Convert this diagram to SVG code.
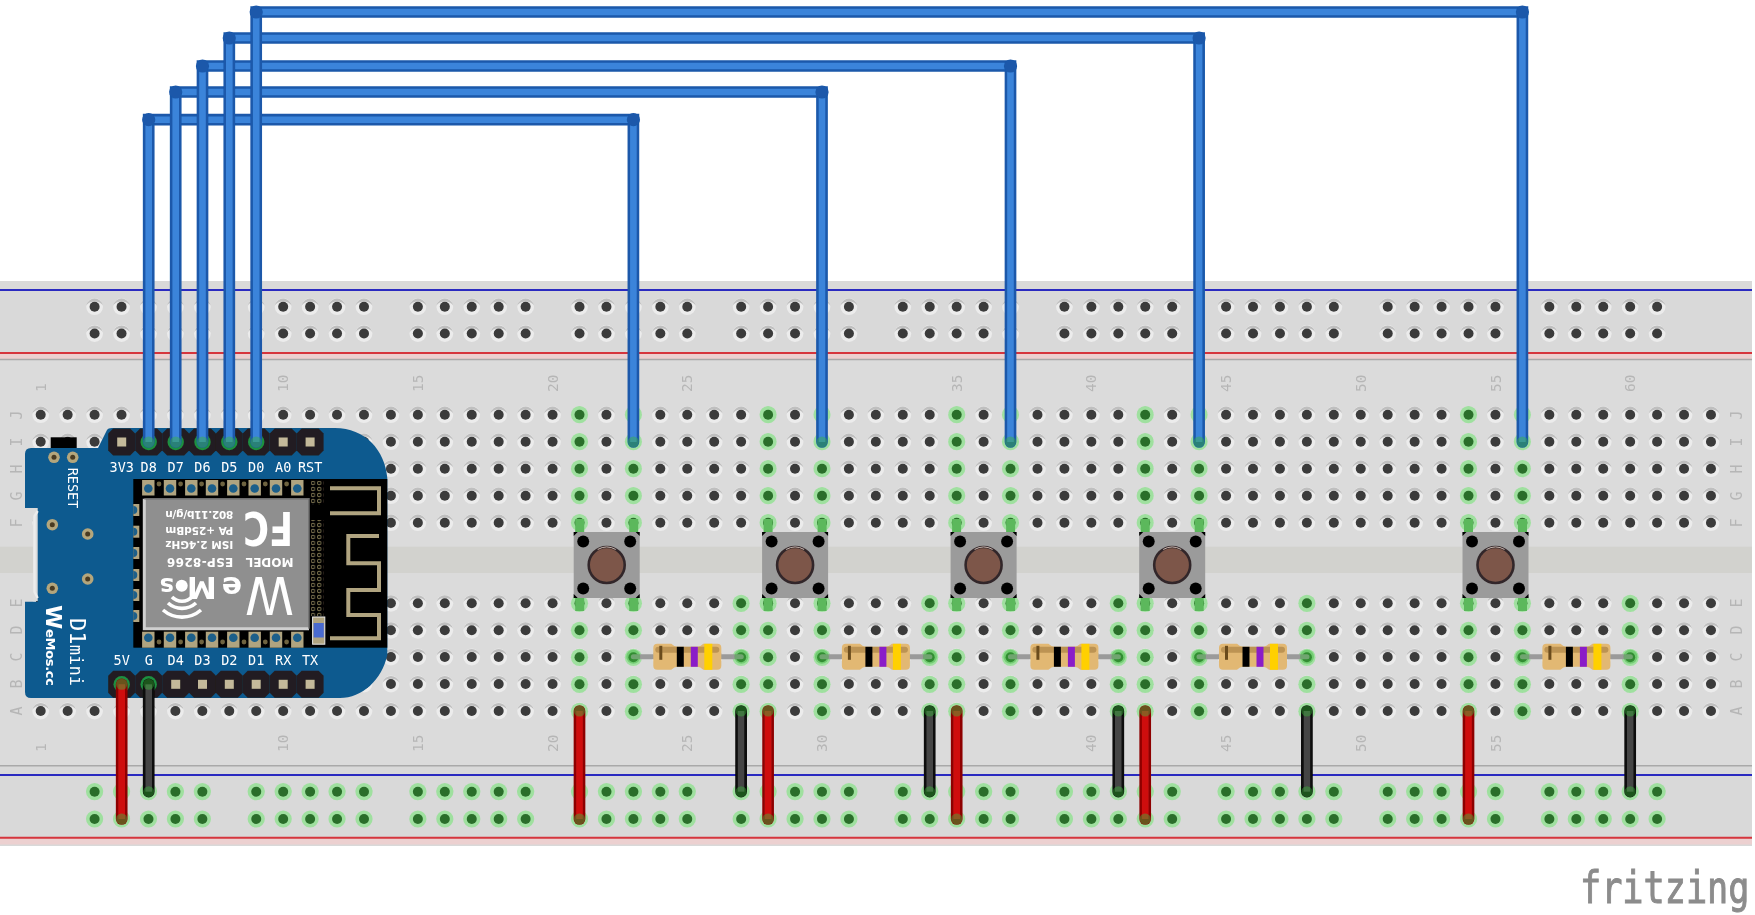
<svg xmlns="http://www.w3.org/2000/svg" width="1755" height="915" viewBox="0 0 1755 915">
<style>
.num{font:14.5px "DejaVu Sans Mono",monospace;fill:#b6b6b6}
.let{font:15px "DejaVu Sans Mono",monospace;fill:#b6b6b6;text-anchor:middle}
.pl{font:13.5px "DejaVu Sans Mono",monospace;fill:#fff;text-anchor:middle}
.chip{font-family:"DejaVu Sans",sans-serif;font-weight:700;fill:#fff}
.logo{font-family:"DejaVu Sans",sans-serif;fill:#fff}
.bo{fill:none;stroke:#1a58aa;stroke-width:11.7}
.bi{fill:none;stroke:#3b84da;stroke-width:6.6}
.bd{fill:#1a58aa}
.ro{fill:none;stroke:#8e0505;stroke-width:11.7;stroke-linecap:round}
.ri{fill:none;stroke:#cf1111;stroke-width:6.6}
.ko{fill:none;stroke:#070707;stroke-width:11.7;stroke-linecap:round}
.ki{fill:none;stroke:#444;stroke-width:6.6}
.end{fill:#3cb43c;opacity:.45}
.pad{fill:#b0a480}
.teal{fill:#1d5f8a}
.ant{fill:none;stroke:#b0a480;stroke-width:4}
</style>
<defs>
<filter id="soft" x="0" y="0" width="100%" height="100%"><feGaussianBlur stdDeviation="0.45"/></filter>
<g id="h"><circle r="8.4" fill="#ececec"/><path d="M-8.2,-1.5A8.4,8.4 0 0 1 8.2,-1.5A9,6.5 0 0 0 -8.2,-1.5Z" fill="#bfbfbf"/><circle r="5" fill="#3a3a3a"/></g>
<g id="g"><circle r="8.6" fill="#9fe09f"/><circle r="5" fill="#2a6e2a"/></g>
<g id="h5"><use href="#h"/><use href="#h" x="26.94"/><use href="#h" x="53.88"/><use href="#h" x="80.82"/><use href="#h" x="107.76"/></g>
<g id="g5"><use href="#g"/><use href="#g" x="26.94"/><use href="#g" x="53.88"/><use href="#g" x="80.82"/><use href="#g" x="107.76"/></g>
<g id="h30"><use href="#h5"/><use href="#h5" x="134.7"/><use href="#h5" x="269.4"/><use href="#h5" x="404.1"/><use href="#h5" x="538.8"/><use href="#h5" x="673.5"/></g>
<g id="row"><use href="#h30"/><use href="#h30" x="808.2"/><use href="#h" x="1616.4"/><use href="#h" x="1643.34"/><use href="#h" x="1670.28"/></g>
<g id="rail"><use href="#h5"/><use href="#h5" x="161.64"/><use href="#h5" x="323.28"/><use href="#h5" x="484.92"/><use href="#h5" x="646.56"/><use href="#h5" x="808.2"/><use href="#h5" x="969.84"/><use href="#h5" x="1131.48"/><use href="#h5" x="1293.12"/><use href="#h5" x="1454.76"/></g>
<g id="grail"><use href="#g5"/><use href="#g5" x="161.64"/><use href="#g5" x="323.28"/><use href="#g5" x="484.92"/><use href="#g5" x="646.56"/><use href="#g5" x="808.2"/><use href="#g5" x="969.84"/><use href="#g5" x="1131.48"/><use href="#g5" x="1293.12"/><use href="#g5" x="1454.76"/></g>
<g id="gc"><use href="#g"/><use href="#g" y="27"/><use href="#g" y="54"/><use href="#g" y="81"/><use href="#g" y="108"/></g>
<g id="btn">
<rect x="-31.5" y="-46" width="9" height="14" fill="#5cb85c"/><rect x="22.5" y="-46" width="9" height="14" fill="#5cb85c"/>
<rect x="-31.5" y="32" width="9" height="14" fill="#5cb85c"/><rect x="22.5" y="32" width="9" height="14" fill="#5cb85c"/>
<rect x="-33" y="-33" width="66" height="66" fill="#9b9b9b"/>
<path d="M-33,-33h4l-4,4zM33,-33h-4l4,4zM-33,33h4l-4,-4zM33,33h-4l4,-4z" fill="#000"/>
<g fill="#050505"><circle cx="-23.5" cy="-23.5" r="6"/><circle cx="23.5" cy="-23.5" r="6"/><circle cx="-23.5" cy="23.5" r="6"/><circle cx="23.5" cy="23.5" r="6"/></g>
<circle r="18" fill="#7d5648" stroke="#33282a" stroke-width="2.6"/>
<path d="M-9,-15.5A18,18 0 0 1 9,-15.5" fill="none" stroke="#c9b5ad" stroke-width="1"/>
</g>
<g id="res">
<line x1="-54" x2="54" stroke="#9a9a9a" stroke-width="5" stroke-linecap="round"/>
<circle cx="-54" r="7" class="end"/><circle cx="54" r="7" class="end"/>
<path d="M-30,-13H-16Q-13,-10 -10,-10H10Q13,-10 16,-13H30Q34,-13 34,-9V9Q34,13 30,13H16Q13,10 10,10H-10Q-13,10 -16,13H-30Q-34,13 -34,9V-9Q-34,-13 -30,-13Z" fill="#e2b873"/>
<rect x="-32" y="-10" width="64" height="6" rx="3" fill="#9c7438" opacity=".55"/>
<rect x="-28" y="-11" width="3" height="14" fill="#6a4c1e"/>
<rect x="-10.5" y="-10" width="7" height="20" fill="#050505"/>
<rect x="3.5" y="-10" width="7" height="20" fill="#8a1ec8"/>
<rect x="17" y="-13" width="8" height="26" fill="#ffd000"/>
</g>
<g id="pin"><polygon points="-13.5,-8.5 -8.5,-13.5 8.5,-13.5 13.5,-8.5 13.5,8.5 8.5,13.5 -8.5,13.5 -13.5,8.5" fill="#231f20"/><rect x="-4.5" y="-4.5" width="9" height="9" fill="#c4b99a"/></g>
<pattern id="vias" width="6.2" height="6" patternUnits="userSpaceOnUse"><circle cx="3" cy="3" r="1.7" fill="none" stroke="#7c7350" stroke-width="1"/></pattern>
<g id="tp"><rect x="-6.2" y="0" width="12.4" height="15.5" class="pad"/><circle cy="8.5" r="4.3" class="teal"/></g>
<g id="bp"><rect x="-6.2" y="0" width="12.4" height="16" class="pad"/><circle cy="6" r="4.3" class="teal"/></g>
<g id="lp"><rect x="0" y="-6" width="6" height="12" class="pad"/><path d="M0,-4A4,4 0 0 1 0,4Z" class="teal"/></g>
<g id="ring"><circle r="5.8" fill="#b4a67c"/><circle r="2.5" fill="#4a3a20"/></g>
</defs>
<rect width="1755" height="915" fill="#fff"/>
<g filter="url(#soft)">
<g id="breadboard">
<rect y="281" width="1752" height="565" fill="#d9d9d9"/>
<rect y="360" width="1752" height="405" fill="#dbdbdb"/>
<rect y="546.7" width="1752" height="26.3" fill="#d2d2ce"/>
<rect y="354" width="1752" height="5" fill="#ecd0d0"/>
<rect y="838.5" width="1752" height="6" fill="#ecd0d0"/>
<line x2="1752" y1="290" y2="290" stroke="#2a2ac0" stroke-width="2"/>
<line x2="1752" y1="353" y2="353" stroke="#d6343c" stroke-width="2"/>
<line x2="1752" y1="359.5" y2="359.5" stroke="#a9a9a9" stroke-width="1.5"/>
<line x2="1752" y1="765.7" y2="765.7" stroke="#a9a9a9" stroke-width="1.5"/>
<line x2="1752" y1="775" y2="775" stroke="#2a2ac0" stroke-width="2"/>
<line x2="1752" y1="837.7" y2="837.7" stroke="#d6343c" stroke-width="2"/>
<g id="holes">
<use href="#rail" x="94.6" y="306.7"/><use href="#rail" x="94.6" y="333.5"/>
<use href="#grail" x="94.6" y="791.7"/><use href="#grail" x="94.6" y="819"/>
<use href="#row" x="40.7" y="414.7"/><use href="#row" x="40.7" y="441.7"/><use href="#row" x="40.7" y="468.7"/><use href="#row" x="40.7" y="495.7"/><use href="#row" x="40.7" y="522.7"/>
<use href="#row" x="40.7" y="603.3"/><use href="#row" x="40.7" y="630.3"/><use href="#row" x="40.7" y="657"/><use href="#row" x="40.7" y="684"/><use href="#row" x="40.7" y="711"/>
</g>
<g id="connected-top">
<use href="#gc" x="579.5" y="414.7"/><use href="#gc" x="633.4" y="414.7"/><use href="#gc" x="768.1" y="414.7"/><use href="#gc" x="822" y="414.7"/><use href="#gc" x="956.7" y="414.7"/><use href="#gc" x="1010.5" y="414.7"/><use href="#gc" x="1145.2" y="414.7"/><use href="#gc" x="1199.1" y="414.7"/><use href="#gc" x="1468.5" y="414.7"/><use href="#gc" x="1522.4" y="414.7"/>
</g>
<g id="connected-bottom">
<use href="#gc" x="579.5" y="603.3"/><use href="#gc" x="633.4" y="603.3"/><use href="#gc" x="741.1" y="603.3"/><use href="#gc" x="768.1" y="603.3"/><use href="#gc" x="822" y="603.3"/><use href="#gc" x="929.7" y="603.3"/><use href="#gc" x="956.7" y="603.3"/><use href="#gc" x="1010.5" y="603.3"/><use href="#gc" x="1118.3" y="603.3"/><use href="#gc" x="1145.2" y="603.3"/><use href="#gc" x="1199.1" y="603.3"/><use href="#gc" x="1306.9" y="603.3"/><use href="#gc" x="1468.5" y="603.3"/><use href="#gc" x="1522.4" y="603.3"/><use href="#gc" x="1630.2" y="603.3"/>
</g>
<g id="column-numbers">
<text class="num" transform="translate(46,392) rotate(-90)">1</text><text class="num" transform="translate(153.5,392) rotate(-90)">5</text><text class="num" transform="translate(288.2,392) rotate(-90)">10</text><text class="num" transform="translate(422.9,392) rotate(-90)">15</text><text class="num" transform="translate(557.6,392) rotate(-90)">20</text><text class="num" transform="translate(692.3,392) rotate(-90)">25</text><text class="num" transform="translate(827,392) rotate(-90)">30</text><text class="num" transform="translate(961.7,392) rotate(-90)">35</text><text class="num" transform="translate(1096.4,392) rotate(-90)">40</text><text class="num" transform="translate(1231.1,392) rotate(-90)">45</text><text class="num" transform="translate(1365.8,392) rotate(-90)">50</text><text class="num" transform="translate(1500.5,392) rotate(-90)">55</text><text class="num" transform="translate(1635.2,392) rotate(-90)">60</text>
<text class="num" transform="translate(46,752) rotate(-90)">1</text><text class="num" transform="translate(153.5,752) rotate(-90)">5</text><text class="num" transform="translate(288.2,752) rotate(-90)">10</text><text class="num" transform="translate(422.9,752) rotate(-90)">15</text><text class="num" transform="translate(557.6,752) rotate(-90)">20</text><text class="num" transform="translate(692.3,752) rotate(-90)">25</text><text class="num" transform="translate(827,752) rotate(-90)">30</text><text class="num" transform="translate(961.7,752) rotate(-90)">35</text><text class="num" transform="translate(1096.4,752) rotate(-90)">40</text><text class="num" transform="translate(1231.1,752) rotate(-90)">45</text><text class="num" transform="translate(1365.8,752) rotate(-90)">50</text><text class="num" transform="translate(1500.5,752) rotate(-90)">55</text><text class="num" transform="translate(1635.2,752) rotate(-90)">60</text>
</g>
<g id="row-letters">
<text class="let" transform="translate(22,415) rotate(-90)">J</text><text class="let" transform="translate(22,442) rotate(-90)">I</text><text class="let" transform="translate(22,469) rotate(-90)">H</text><text class="let" transform="translate(22,496) rotate(-90)">G</text><text class="let" transform="translate(22,523) rotate(-90)">F</text><text class="let" transform="translate(22,603) rotate(-90)">E</text><text class="let" transform="translate(22,630) rotate(-90)">D</text><text class="let" transform="translate(22,657) rotate(-90)">C</text><text class="let" transform="translate(22,684) rotate(-90)">B</text><text class="let" transform="translate(22,711) rotate(-90)">A</text>
<text class="let" transform="translate(1742,415) rotate(-90)">J</text><text class="let" transform="translate(1742,442) rotate(-90)">I</text><text class="let" transform="translate(1742,469) rotate(-90)">H</text><text class="let" transform="translate(1742,496) rotate(-90)">G</text><text class="let" transform="translate(1742,523) rotate(-90)">F</text><text class="let" transform="translate(1742,603) rotate(-90)">E</text><text class="let" transform="translate(1742,630) rotate(-90)">D</text><text class="let" transform="translate(1742,657) rotate(-90)">C</text><text class="let" transform="translate(1742,684) rotate(-90)">B</text><text class="let" transform="translate(1742,711) rotate(-90)">A</text>
</g>
</g>

<g id="resistor-1"><use href="#res" transform="translate(687.3,656.8)"/></g>
<g id="resistor-2"><use href="#res" transform="translate(875.9,656.8)"/></g>
<g id="resistor-3"><use href="#res" transform="translate(1064.4,656.8)"/></g>
<g id="resistor-4"><use href="#res" transform="translate(1253,656.8)"/></g>
<g id="resistor-5"><use href="#res" transform="translate(1576.4,656.8)"/></g>

<g id="button-1"><use href="#btn" transform="translate(606.7,565)"/></g>
<g id="button-2"><use href="#btn" transform="translate(795.1,565)"/></g>
<g id="button-3"><use href="#btn" transform="translate(983.6,565)"/></g>
<g id="button-4"><use href="#btn" transform="translate(1172.2,565)"/></g>
<g id="button-5"><use href="#btn" transform="translate(1495.5,565)"/></g>

<g id="wemos-d1-mini">
<rect x="50.7" y="437.3" width="26" height="11.5" fill="#000"/>
<rect x="33" y="509" width="6" height="92" fill="#dcdcdc"/>
<path d="M31,448L98,448L107,430Q108,428 112,428L335,428C365,428 385,450 387.3,478L387.3,655C382,680 362,698 340,698L31,698Q25,698 25,692L25,601.7L37.7,601.7L37.7,508L25,508L25,454Q25,448 31,448Z" fill="#0f5a8f"/>
<path d="M37.7,511L34.5,516L34.5,592L37.7,598" fill="none" stroke="#ececec" stroke-width="2.4"/>
<use href="#ring" x="54" y="457.3"/><use href="#ring" x="72.7" y="457.3"/><use href="#ring" x="52.3" y="524.7"/><use href="#ring" x="87.7" y="534"/><use href="#ring" x="87.7" y="579"/><use href="#ring" x="52.3" y="588.3"/>
<rect x="133.3" y="479" width="254" height="168.7" fill="#000"/>
<g id="castellations">
<use href="#tp" x="148.3" y="480"/><use href="#tp" x="170" y="480"/><use href="#tp" x="191.3" y="480"/><use href="#tp" x="212" y="480"/><use href="#tp" x="233.3" y="480"/><use href="#tp" x="254.7" y="480"/><use href="#tp" x="276" y="480"/><use href="#tp" x="297.3" y="480"/>
<use href="#bp" x="148.3" y="631.7"/><use href="#bp" x="170" y="631.7"/><use href="#bp" x="191.3" y="631.7"/><use href="#bp" x="212" y="631.7"/><use href="#bp" x="233.3" y="631.7"/><use href="#bp" x="254.7" y="631.7"/><use href="#bp" x="276" y="631.7"/><use href="#bp" x="297.3" y="631.7"/>
<use href="#lp" x="133.3" y="510"/><use href="#lp" x="133.3" y="531.7"/><use href="#lp" x="133.3" y="553"/><use href="#lp" x="133.3" y="575"/><use href="#lp" x="133.3" y="595"/><use href="#lp" x="133.3" y="616"/>
</g>
<g fill="#6e6440"><circle cx="159" cy="484" r="2.4"/><circle cx="180.6" cy="484" r="2.4"/><circle cx="201.6" cy="484" r="2.4"/><circle cx="222.6" cy="484" r="2.4"/><circle cx="244" cy="484" r="2.4"/><circle cx="265.3" cy="484" r="2.4"/><circle cx="286.6" cy="484" r="2.4"/><circle cx="159" cy="642" r="2.4"/><circle cx="180.6" cy="642" r="2.4"/><circle cx="201.6" cy="642" r="2.4"/><circle cx="222.6" cy="642" r="2.4"/><circle cx="244" cy="642" r="2.4"/><circle cx="265.3" cy="642" r="2.4"/><circle cx="286.6" cy="642" r="2.4"/></g>
<rect x="311" y="481" width="12.4" height="24" fill="url(#vias)"/>
<rect x="311" y="520" width="12.4" height="96" fill="url(#vias)"/>
<path class="ant" d="M330,488.3H379V513.3H330"/><path class="ant" d="M379,536H348.3V563.3H379V590H348.3V615H379V638.3H330"/>
<rect x="312.6" y="617" width="12.2" height="27.2" fill="#b0a480" stroke="#e8e8e8" stroke-width="1"/>
<rect x="313.6" y="623" width="10.2" height="14.5" fill="#4a6ad0"/>
<rect x="144.3" y="498.7" width="164.7" height="130" fill="#8f8f8f"/>
<path d="M144.3,498.7V628.7H309" fill="none" stroke="#cfcfcf" stroke-width="3"/>
<path d="M144.3,498.7H309V628.7" fill="none" stroke="#6e6e6e" stroke-width="1.5"/>
<g id="shield-labels">
<text class="chip" font-size="10.5" textLength="68" transform="translate(233.3,511) rotate(180)">802.11b/g/n</text>
<text class="chip" font-size="10.5" textLength="68" transform="translate(233.3,526.7) rotate(180)">PA +25dBm</text>
<text class="chip" font-size="10.5" textLength="68" transform="translate(233.3,541) rotate(180)">ISM 2.4GHz</text>
<text class="chip" font-size="12" transform="translate(293.5,558) rotate(180)">MODEL</text>
<text class="chip" font-size="12" textLength="66.5" transform="translate(233.3,558) rotate(180)">ESP-8266</text>
<text class="chip" font-size="46" textLength="50" lengthAdjust="spacingAndGlyphs" transform="translate(293,512) rotate(180)">FC</text>
<text class="logo" font-size="52" textLength="49" lengthAdjust="spacingAndGlyphs" transform="translate(294,577) rotate(180)">W</text>
<text class="chip" font-size="30" textLength="55" transform="translate(242,577) rotate(180)">eM</text>
<text class="chip" font-size="24" transform="translate(174,578) rotate(180)">s</text>
</g>
<circle cx="181.7" cy="585.7" r="6" fill="#fff"/>
<g fill="none" stroke="#fff" stroke-width="3.6"><path d="M172,597A14,14 0 0 0 192,597"/><path d="M168,603A21,21 0 0 0 196,603"/><path d="M163,610A29,29 0 0 0 201,610"/></g>
<text class="pl" transform="translate(67.5,467.7) rotate(90)" style="text-anchor:start">RESET</text>
<text style="font:22px 'DejaVu Sans Mono',monospace;fill:#fff" transform="translate(70,618) rotate(90)" textLength="68">D1<tspan font-size="17">mini</tspan></text>
<text class="chip" transform="translate(45.5,605) rotate(90)" font-size="13" textLength="81"><tspan font-size="22">W</tspan>eMos.cc</text>
<g id="headers">
<use href="#pin" x="121.7" y="442"/><use href="#pin" x="148.7" y="442"/><use href="#pin" x="175.7" y="442"/><use href="#pin" x="202.5" y="442"/><use href="#pin" x="229.3" y="442"/><use href="#pin" x="256.2" y="442"/><use href="#pin" x="283.2" y="442"/><use href="#pin" x="310.1" y="442"/>
<use href="#pin" x="121.7" y="684.3"/><use href="#pin" x="148.7" y="684.3"/><use href="#pin" x="175.7" y="684.3"/><use href="#pin" x="202.5" y="684.3"/><use href="#pin" x="229.3" y="684.3"/><use href="#pin" x="256.2" y="684.3"/><use href="#pin" x="283.2" y="684.3"/><use href="#pin" x="310.1" y="684.3"/>
</g>
<g fill="#1f9040"><circle cx="148.7" cy="442" r="8.2"/><circle cx="175.7" cy="442" r="8.2"/><circle cx="202.5" cy="442" r="8.2"/><circle cx="229.3" cy="442" r="8.2"/><circle cx="256.2" cy="442" r="8.2"/><circle cx="121.7" cy="684.3" r="8.2"/><circle cx="148.7" cy="684.3" r="8.2"/></g>
<text class="pl" x="121.7" y="472">3V3</text><text class="pl" x="148.7" y="472">D8</text><text class="pl" x="175.7" y="472">D7</text><text class="pl" x="202.5" y="472">D6</text><text class="pl" x="229.3" y="472">D5</text><text class="pl" x="256.2" y="472">D0</text><text class="pl" x="283.2" y="472">A0</text><text class="pl" x="310.1" y="472">RST</text>
<text class="pl" x="121.7" y="664.7">5V</text><text class="pl" x="148.7" y="664.7">G</text><text class="pl" x="175.7" y="664.7">D4</text><text class="pl" x="202.5" y="664.7">D3</text><text class="pl" x="229.3" y="664.7">D2</text><text class="pl" x="256.2" y="664.7">D1</text><text class="pl" x="283.2" y="664.7">RX</text><text class="pl" x="310.1" y="664.7">TX</text>
</g>

<g id="connectors">
<g id="jumpers-power">
<path class="ko" d="M148.7,684.3V791.7"/><path class="ki" d="M148.7,684.3V791.7"/><circle class="end" cx="148.7" cy="684.3" r="5.5"/><circle class="end" cx="148.7" cy="791.7" r="5.5"/>
<path class="ro" d="M121.7,684.3V819"/><path class="ri" d="M121.7,684.3V819"/><circle class="end" cx="121.7" cy="684.3" r="5.5"/><circle class="end" cx="121.7" cy="819" r="5.5"/>
<path class="ro" d="M579.5,711V819"/><path class="ri" d="M579.5,711V819"/><circle class="end" cx="579.5" cy="711" r="5.5"/><circle class="end" cx="579.5" cy="819" r="5.5"/>
<path class="ko" d="M741.1,711V791.7"/><path class="ki" d="M741.1,711V791.7"/><circle class="end" cx="741.1" cy="711" r="5.5"/><circle class="end" cx="741.1" cy="791.7" r="5.5"/>
<path class="ro" d="M768.1,711V819"/><path class="ri" d="M768.1,711V819"/><circle class="end" cx="768.1" cy="711" r="5.5"/><circle class="end" cx="768.1" cy="819" r="5.5"/>
<path class="ko" d="M929.7,711V791.7"/><path class="ki" d="M929.7,711V791.7"/><circle class="end" cx="929.7" cy="711" r="5.5"/><circle class="end" cx="929.7" cy="791.7" r="5.5"/>
<path class="ro" d="M956.7,711V819"/><path class="ri" d="M956.7,711V819"/><circle class="end" cx="956.7" cy="711" r="5.5"/><circle class="end" cx="956.7" cy="819" r="5.5"/>
<path class="ko" d="M1118.3,711V791.7"/><path class="ki" d="M1118.3,711V791.7"/><circle class="end" cx="1118.3" cy="711" r="5.5"/><circle class="end" cx="1118.3" cy="791.7" r="5.5"/>
<path class="ro" d="M1145.2,711V819"/><path class="ri" d="M1145.2,711V819"/><circle class="end" cx="1145.2" cy="711" r="5.5"/><circle class="end" cx="1145.2" cy="819" r="5.5"/>
<path class="ko" d="M1306.9,711V791.7"/><path class="ki" d="M1306.9,711V791.7"/><circle class="end" cx="1306.9" cy="711" r="5.5"/><circle class="end" cx="1306.9" cy="791.7" r="5.5"/>
<path class="ro" d="M1468.5,711V819"/><path class="ri" d="M1468.5,711V819"/><circle class="end" cx="1468.5" cy="711" r="5.5"/><circle class="end" cx="1468.5" cy="819" r="5.5"/>
<path class="ko" d="M1630.2,711V791.7"/><path class="ki" d="M1630.2,711V791.7"/><circle class="end" cx="1630.2" cy="711" r="5.5"/><circle class="end" cx="1630.2" cy="791.7" r="5.5"/>
</g>
<g id="wire-d8"><path class="bo" d="M148.7,442V119.7H633.4V442" stroke-linecap="round"/><path class="bi" d="M148.7,442V119.7H633.4V442"/><circle class="bd" cx="148.7" cy="119.7" r="6.6"/><circle class="bd" cx="633.4" cy="119.7" r="6.6"/><circle class="end" cx="148.7" cy="442" r="5.5"/><circle class="end" cx="633.4" cy="442" r="5.5"/></g>
<g id="wire-d7"><path class="bo" d="M175.7,442V92H822V442" stroke-linecap="round"/><path class="bi" d="M175.7,442V92H822V442"/><circle class="bd" cx="175.7" cy="92" r="6.6"/><circle class="bd" cx="822" cy="92" r="6.6"/><circle class="end" cx="175.7" cy="442" r="5.5"/><circle class="end" cx="822" cy="442" r="5.5"/></g>
<g id="wire-d6"><path class="bo" d="M202.5,442V66H1010.5V442" stroke-linecap="round"/><path class="bi" d="M202.5,442V66H1010.5V442"/><circle class="bd" cx="202.5" cy="66" r="6.6"/><circle class="bd" cx="1010.5" cy="66" r="6.6"/><circle class="end" cx="202.5" cy="442" r="5.5"/><circle class="end" cx="1010.5" cy="442" r="5.5"/></g>
<g id="wire-d5"><path class="bo" d="M229.3,442V38H1199.1V442" stroke-linecap="round"/><path class="bi" d="M229.3,442V38H1199.1V442"/><circle class="bd" cx="229.3" cy="38" r="6.6"/><circle class="bd" cx="1199.1" cy="38" r="6.6"/><circle class="end" cx="229.3" cy="442" r="5.5"/><circle class="end" cx="1199.1" cy="442" r="5.5"/></g>
<g id="wire-d0"><path class="bo" d="M256.2,442V12H1522.4V442" stroke-linecap="round"/><path class="bi" d="M256.2,442V12H1522.4V442"/><circle class="bd" cx="256.2" cy="12" r="6.6"/><circle class="bd" cx="1522.4" cy="12" r="6.6"/><circle class="end" cx="256.2" cy="442" r="5.5"/><circle class="end" cx="1522.4" cy="442" r="5.5"/></g>
</g>

<text id="fritzing-logo" transform="translate(1580,903) scale(.8,1)" style="font:44px 'DejaVu Sans Mono',monospace;fill:#8c8c8c;stroke:#8c8c8c;stroke-width:1">fritzing</text>
</g>
<rect x="1752" y="0" width="3" height="915" fill="#fff"/>
</svg>
